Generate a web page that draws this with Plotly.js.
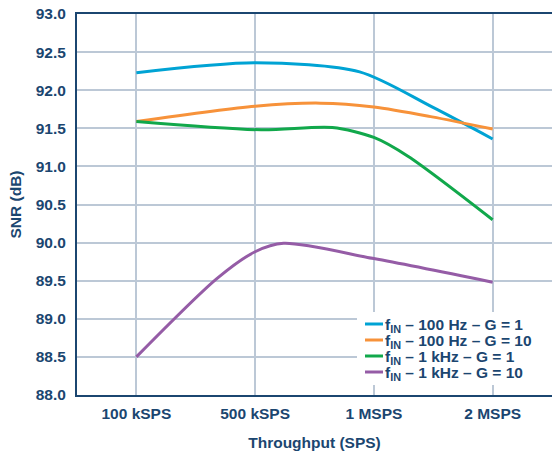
<!DOCTYPE html>
<html>
<head>
<meta charset="utf-8">
<script src="https://cdn.plot.ly/plotly-3.0.1.min.js"></script>
<style>html,body{margin:0;padding:0;background:#fff;}#chart{width:552px;height:456px;}</style>
</head>
<body>
<div id="chart"></div>
<script>
const categories = ["100 kSPS", "500 kSPS", "1 MSPS", "2 MSPS"];
const categoryPos = [0, 1, 2, 3];
const yTicks = [88.0, 88.5, 89.0, 89.5, 90.0, 90.5, 91.0, 91.5, 92.0, 92.5, 93.0];

const seriesNames = [
  "f<sub>IN</sub> – 100 Hz – G = 1",
  "f<sub>IN</sub> – 100 Hz – G = 10",
  "f<sub>IN</sub> – 1 kHz – G = 1",
  "f<sub>IN</sub> – 1 kHz – G = 10"
];

const blueX = [0, 1, 1.88, 2.49, 3];
const blueY = [92.23, 92.36, 92.24, 91.78, 91.36];

const orangeX = [0, 1, 1.55, 2, 2.49, 3];
const orangeY = [91.59, 91.79, 91.83, 91.78, 91.65, 91.49];

const greenX = [0, 1.05, 1.65, 2, 2.29, 3];
const greenY = [91.59, 91.48, 91.51, 91.38, 91.13, 90.30];

const purpleX = [0, 0.68, 1, 1.24, 2, 3];
const purpleY = [88.50, 89.53, 89.88, 89.99, 89.79, 89.48];

const colors = ["#00a3d4", "#f7923a", "#11a84b", "#955ca6"];
const navy = "#1b4670";
const font = "Liberation Sans, Arial, sans-serif";
const fsz = 15.5;

const xs = [blueX, orangeX, greenX, purpleX];
const ys = [blueY, orangeY, greenY, purpleY];

const traces = xs.map((x, i) => ({
  x: x, y: ys[i], name: seriesNames[i], type: "scatter", mode: "lines",
  line: {color: colors[i], width: 3, shape: "spline", smoothing: 0.8},
  hoverinfo: "skip", showlegend: false
}));

// plot area in pixels (for legend placement only)
const M = {l: 77, r: 0, t: 14, b: 61};
const W = 552, H = 456;
const pw = W - M.l - M.r, ph = H - M.t - M.b;
const px = v => (v - M.l) / pw;
const py = v => (H - M.b - v) / ph;

const rowY = [324, 340, 356, 372];
const shapes = [{
  type: "rect", xref: "paper", yref: "paper",
  x0: px(357), x1: 1, y0: py(385), y1: py(312),
  fillcolor: "#fff", line: {width: 0}, layer: "above"
}];
const annotations = [];
seriesNames.forEach((name, i) => {
  shapes.push({
    type: "line", xref: "paper", yref: "paper",
    x0: px(365), x1: px(383), y0: py(rowY[i]), y1: py(rowY[i]),
    line: {color: colors[i], width: 3}, layer: "above"
  });
  annotations.push({
    xref: "paper", yref: "paper", x: px(384), y: py(rowY[i] + 1.5),
    xanchor: "left", yanchor: "middle", showarrow: false, text: name,
    borderpad: 0,
    font: {family: font, size: fsz, color: navy, weight: "bold"}
  });
});

const layout = {
  width: W, height: H,
  margin: M,
  paper_bgcolor: "#fff", plot_bgcolor: "#fff",
  font: {family: font, color: navy, size: fsz},
  showlegend: false,
  shapes: shapes,
  annotations: annotations,
  xaxis: {
    range: [-0.5, 3.5], tickvals: categoryPos, ticktext: categories,
    showgrid: true, gridcolor: "#bcc8d6", gridwidth: 2,
    showline: true, linecolor: navy, linewidth: 2, mirror: true,
    ticks: "", zeroline: false, fixedrange: true, ticklabelstandoff: 3,
    tickfont: {family: font, size: fsz, color: navy, weight: "bold"},
    title: {text: "Throughput (SPS)", standoff: 17, font: {family: font, size: fsz, color: navy, weight: "bold"}}
  },
  yaxis: {
    range: [88, 93], tickvals: yTicks, ticktext: yTicks.map(v => v.toFixed(1)),
    showgrid: true, gridcolor: "#bcc8d6", gridwidth: 2,
    showline: true, linecolor: navy, linewidth: 2,
    ticks: "", zeroline: false, fixedrange: true, ticklabelstandoff: 6,
    tickfont: {family: font, size: fsz, color: navy, weight: "bold"},
    title: {text: "SNR (dB)", standoff: 10, font: {family: font, size: fsz, color: navy, weight: "bold"}}
  }
};

Plotly.newPlot("chart", traces, layout, {staticPlot: true, displayModeBar: false});
</script>
</body>
</html>
